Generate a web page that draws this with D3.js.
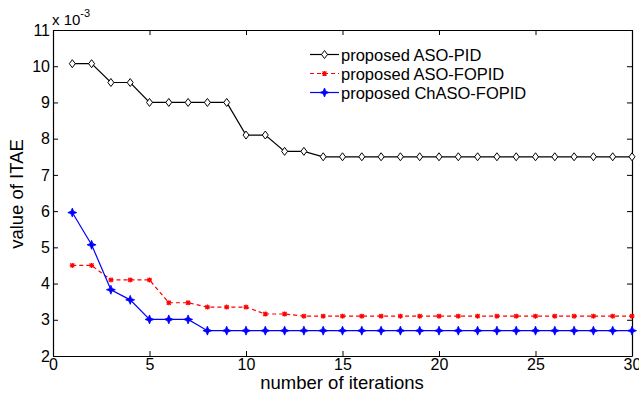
<!DOCTYPE html>
<html>
<head>
<meta charset="utf-8">
<script src="https://cdn.jsdelivr.net/npm/d3@7"></script>
<style>
body{margin:0;background:#fff;}
text{font-family:"Liberation Sans",Arial,sans-serif;fill:#000;}
</style>
</head>
<body>
<svg id="chart" width="639" height="395"></svg>
<script>
// data (values in units of 1e-3)
var iteracoes = d3.range(1, 31);
var asoPid = [10.07,10.07,9.55,9.55,9.0,9.0,9.0,9.0,9.0,8.1,8.1,7.65,7.65,7.5,7.5,7.5,7.5,7.5,7.5,7.5,7.5,7.5,7.5,7.5,7.5,7.5,7.5,7.5,7.5,7.5];
var asoFopid = [4.5,4.5,4.1,4.1,4.1,3.47,3.47,3.35,3.35,3.35,3.16,3.16,3.1,3.1,3.1,3.1,3.1,3.1,3.1,3.1,3.1,3.1,3.1,3.1,3.1,3.1,3.1,3.1,3.1,3.1];
var chasoFopid = [5.96,5.07,3.83,3.55,3.01,3.01,3.01,2.7,2.7,2.7,2.7,2.7,2.7,2.7,2.7,2.7,2.7,2.7,2.7,2.7,2.7,2.7,2.7,2.7,2.7,2.7,2.7,2.7,2.7,2.7];
var nomes = ["proposed ASO-PID","proposed ASO-FOPID","proposed ChASO-FOPID"];
var xTicks = [0,5,10,15,20,25,30];
var yTicks = [2,3,4,5,6,7,8,9,10,11];

var svg = d3.select("#chart");
var margem = {left: 53, right: 7, top: 30, bottom: 39};
var largura = 639 - margem.left - margem.right,
    altura = 395 - margem.top - margem.bottom;

var x = d3.scaleLinear().domain([0,30]).range([margem.left, margem.left + largura]);
var y = d3.scaleLinear().domain([2,11]).range([margem.top + altura, margem.top]);

// axes (ticks pointing inward, on all four sides)
var eixoX = d3.axisBottom(x).tickValues(xTicks).tickSizeInner(-5).tickSizeOuter(0).tickPadding(3);
var eixoY = d3.axisLeft(y).tickValues(yTicks).tickSizeInner(-5).tickSizeOuter(0).tickPadding(3);

var gx = svg.append("g").attr("transform","translate(0,"+(margem.top+altura)+")").call(eixoX);
var gy = svg.append("g").attr("transform","translate("+margem.left+",0)").call(eixoY);
svg.append("g").attr("transform","translate(0,"+margem.top+")")
  .call(d3.axisTop(x).tickValues(xTicks).tickSizeInner(-5).tickSizeOuter(0).tickFormat(""));
svg.append("g").attr("transform","translate("+(margem.left+largura)+",0)")
  .call(d3.axisRight(y).tickValues(yTicks).tickSizeInner(-5).tickSizeOuter(0).tickFormat(""));

svg.selectAll(".domain").attr("stroke","#000").attr("stroke-width",1.2);
svg.selectAll(".tick line").attr("stroke","#000");
svg.selectAll(".tick text").style("font-size","16px").style("font-family","'Liberation Sans',Arial,sans-serif");

// exponent label
var exp = svg.append("text").attr("x",52).attr("y",25).style("font-size","15px");
exp.append("tspan").text("x 10");
exp.append("tspan").attr("dy",-8).style("font-size","11px").text("-3");

// axis titles
svg.append("text").attr("x",342).attr("y",389).attr("text-anchor","middle")
  .style("font-size","18.5px").text("number of iterations");
svg.append("text").attr("transform","translate(23,194) rotate(-90)").attr("text-anchor","middle")
  .style("font-size","18.5px").text("value of ITAE");

var linha = d3.line().x(function(d,i){ return x(iteracoes[i]); }).y(function(d){ return y(d); });

var series = [
  {dados: asoPid, cor: "#000", tracejado: null, marcador: "diamante"},
  {dados: asoFopid, cor: "#ff0000", tracejado: "4,3", marcador: "asterisco"},
  {dados: chasoFopid, cor: "#0000ff", tracejado: null, marcador: "estrela"}
];

function desenharMarcador(g, tipo, cor){
  if(tipo == "diamante"){
    g.append("path").attr("d","M0,-4L3,0L0,4L-3,0Z").attr("fill","#fff").attr("stroke",cor).attr("stroke-width",1);
  }else if(tipo == "asterisco"){
    g.append("path").attr("d","M-2,-2L2,2M-2,2L2,-2M0,-2.5L0,2.5M-2.5,0L2.5,0")
      .attr("stroke",cor).attr("stroke-width",1.2).attr("fill","none");
  }else{
    g.append("path").attr("d","M0,-4.5L1.3,-1.3L4.5,0L1.3,1.3L0,4.5L-1.3,1.3L-4.5,0L-1.3,-1.3Z")
      .attr("fill",cor).attr("stroke",cor).attr("stroke-width",0.8);
  }
}

var plot = svg.append("g");
series.forEach(function(s){
  plot.append("path").datum(s.dados).attr("d",linha)
    .attr("fill","none").attr("stroke",s.cor).attr("stroke-width",1.2)
    .attr("stroke-dasharray",s.tracejado);
  s.dados.forEach(function(v,i){
    var g = plot.append("g").attr("transform","translate("+x(iteracoes[i])+","+y(v)+")");
    desenharMarcador(g, s.marcador, s.cor);
  });
});

// legend
var legenda = svg.append("g");
series.forEach(function(s,i){
  var ly = 54.5 + i*19;
  legenda.append("line").attr("x1",310).attr("x2",339).attr("y1",ly).attr("y2",ly)
    .attr("stroke",s.cor).attr("stroke-width",1.2).attr("stroke-dasharray",s.tracejado);
  var g = legenda.append("g").attr("transform","translate(324.5,"+ly+")");
  desenharMarcador(g, s.marcador, s.cor);
  legenda.append("text").attr("x",341).attr("y",ly+6).style("font-size","16.5px").text(nomes[i]);
});
</script>
</body>
</html>
